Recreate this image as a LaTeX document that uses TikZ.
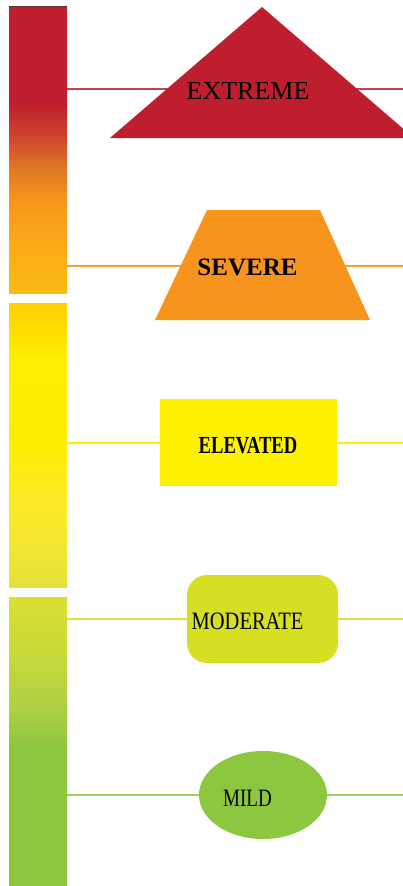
\documentclass[tikz,border=0pt]{standalone}
\usepackage{fontspec}
\setmainfont{Liberation Serif}
\newfontfamily\narrowserif[FakeStretch=0.76]{Liberation Serif}
\newfontfamily\semiserif[FakeStretch=0.82]{Liberation Serif}
\usepackage{tikz}
\usetikzlibrary{positioning, shapes.geometric, backgrounds}

\definecolor{extremered}{HTML}{BE1E2D}
\definecolor{severeorange}{HTML}{F7941D}
\definecolor{elevatedyellow}{HTML}{FFF200}
\definecolor{moderatelime}{HTML}{D7DF23}
\definecolor{mildgreen}{HTML}{8DC63F}
\definecolor{bartop}{HTML}{5B2E2E}

% stops of the bar scales
\definecolor{aA}{HTML}{FDBB12}
\definecolor{aB}{HTML}{F9A51A}
\definecolor{aC}{HTML}{F7961D}
\definecolor{aD}{HTML}{E07A25}
\definecolor{aE}{HTML}{D04A2D}
\definecolor{bA}{HTML}{E2E23A}
\definecolor{bB}{HTML}{F5E830}
\definecolor{bC}{HTML}{FCEA26}
\definecolor{bD}{HTML}{FFED00}
\definecolor{bE}{HTML}{FFEF00}
\definecolor{bF}{HTML}{FDD000}
\definecolor{cA}{HTML}{8FC63F}
\definecolor{cB}{HTML}{AED044}
\definecolor{cC}{HTML}{C9DA39}
\definecolor{cD}{HTML}{D9E031}

% vertical scales for the three bars (25bp = bottom, 75bp = top)
\pgfdeclareverticalshading{barA}{100bp}{%
  color(0bp)=(aA); color(25bp)=(aA);
  color(36bp)=(aB); color(41bp)=(aC);
  color(46.4bp)=(aD); color(51.6bp)=(aE);
  color(58bp)=(extremered); color(100bp)=(extremered)}
\pgfdeclareverticalshading{barB}{100bp}{%
  color(0bp)=(bA); color(25bp)=(bA);
  color(33.3bp)=(bB); color(40.3bp)=(bC);
  color(50.9bp)=(bD); color(65bp)=(bE);
  color(75bp)=(bF); color(100bp)=(bF)}
\pgfdeclareverticalshading{barC}{100bp}{%
  color(0bp)=(mildgreen); color(25bp)=(mildgreen);
  color(49bp)=(cA); color(56bp)=(cB);
  color(65.8bp)=(cC); color(75bp)=(cD);
  color(100bp)=(cD)}

\begin{document}
\begin{tikzpicture}[
    x=1pt, y=-1pt,
    bar/.style={minimum width=58, inner sep=0, outer sep=0},
    level/.style={inner sep=0, outer sep=0},
    label/.style={inner sep=0, text=black},
    wide/.style={label, font=\fontsize{26}{26}\selectfont},
    narrow/.style={label, font=\narrowserif\fontsize{25}{25}\selectfont},
    link/.style={line width=1.1}
]
    \path[use as bounding box, clip] (0,0) rectangle (403,886);

    % Define bars
    \node[bar, shading=barA, minimum height=287] (bar1) at (38,149.5) {};
    \node[bar, shading=barB, minimum height=284] (bar2) at (38,445) {};
    \node[bar, shading=barC, minimum height=289] (bar3) at (38,741.5) {};
    \draw[bartop, line width=1] (bar1.north west) -- (bar1.north east);

    % Define shapes
    \fill[extremered] (110,138) -- (262,7) -- (414,138) -- cycle;
    \fill[severeorange] (155,320) -- (207,210) -- (320,210) -- (370,320) -- cycle;
    \node[level, rectangle, fill=elevatedyellow,
          minimum width=177, minimum height=87] (elevated) at (248.5,442.5) {};
    \node[level, rectangle, rounded corners=20, fill=moderatelime,
          minimum width=151, minimum height=88] (moderate) at (262.5,619) {};
    \node[level, ellipse, fill=mildgreen,
          minimum width=128, minimum height=88] (mild) at (263,795) {};

    % Define labels
    \node[wide] (tExtreme) at (248,91) {EXTREME};
    \node[wide, font=\fontsize{25}{25}\selectfont\bfseries] (tSevere) at (247.5,267.5) {SEVERE};
    \node[narrow, font=\narrowserif\fontsize{24.5}{24.5}\selectfont\bfseries] (tElevated) at (248,446) {ELEVATED};
    \node[narrow, font=\semiserif\fontsize{25}{25}\selectfont] (tModerate) at (247.5,621.5) {MODERATE};
    \node[narrow] (tMild) at (247.5,798.5) {MILD};

    % Line ends
    \coordinate (endA) at (403,89);
    \coordinate (endB) at (403,266);
    \coordinate (endC) at (403,443);
    \coordinate (endD) at (403,619);
    \coordinate (endE) at (403,795);

    % Draw lines
    \begin{scope}[on background layer]
        \draw[link, extremered!85] (bar1.east |- endA) -- (endA);
        \draw[link, severeorange!90] (bar1.east |- endB) -- (endB);
        \draw[link, elevatedyellow] (bar2.east |- endC) -- (endC);
        \draw[link, moderatelime!85] (bar3.east |- endD) -- (endD);
        \draw[link, mildgreen!85] (bar3.east |- endE) -- (endE);
    \end{scope}
\end{tikzpicture}
\end{document}
